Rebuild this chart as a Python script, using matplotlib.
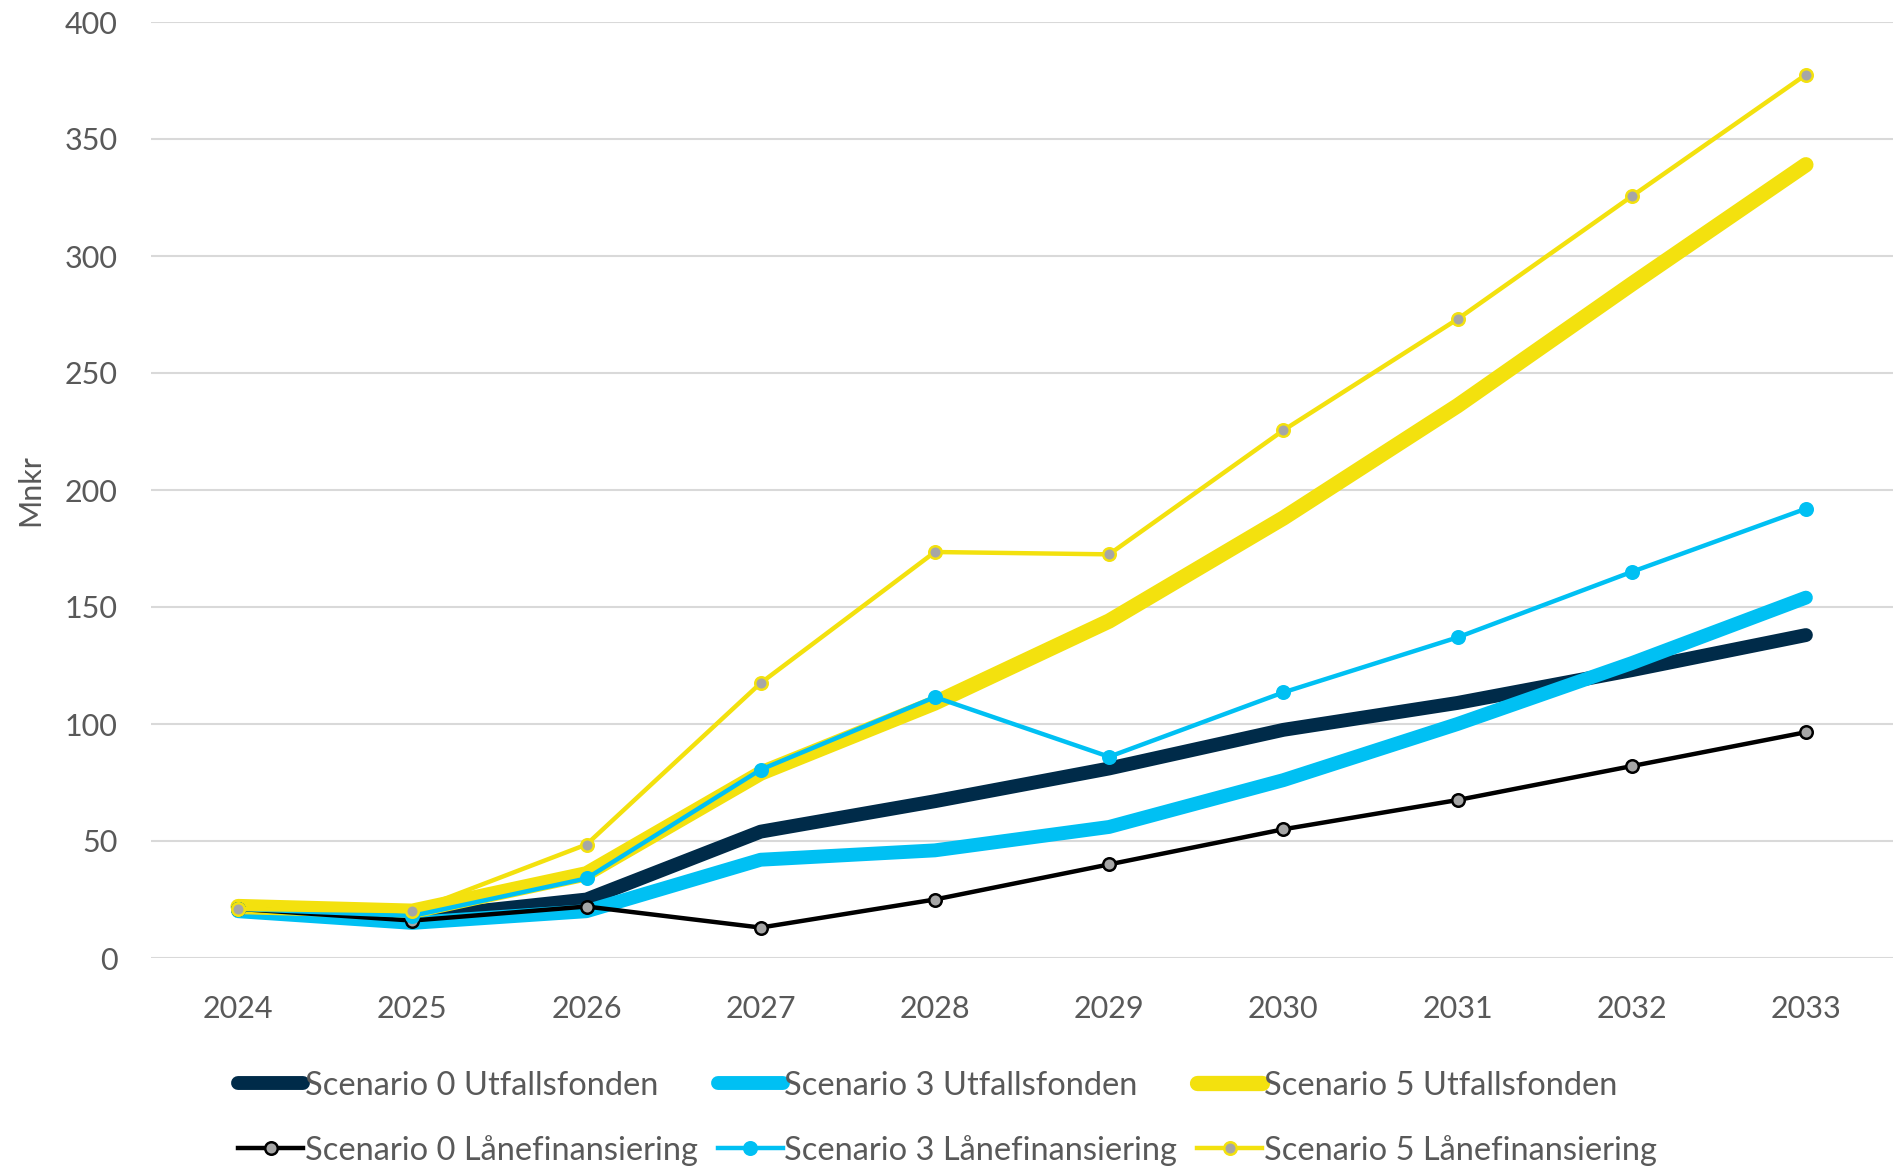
import matplotlib
matplotlib.use('Agg')
import matplotlib.pyplot as plt
import numpy as np

plt.rcParams['font.family'] = ['Lato', 'DejaVu Sans']

# data (Mnkr)
years = ['2024', '2025', '2026', '2027', '2028', '2029', '2030', '2031', '2032', '2033']

s0_utfall = [21, 17, 25, 54, 67, 81, 97.5, 109, 123, 138]
s3_utfall = [20, 15, 20, 42, 46, 56, 76, 100, 126, 154]
s5_utfall = [22, 20, 36, 79, 109, 144, 188, 236, 288, 339]

s0_lan = [21, 16, 22, 13, 25, 40, 55, 67.5, 82, 96.5]
s3_lan = [21, 18, 34, 80.5, 111.5, 86, 113.5, 137, 165, 192]
s5_lan = [21, 20, 48.5, 117.5, 173.5, 172.5, 225.5, 273, 325.5, 377.5]

navy = '#002B49'
cyan = '#00C0F3'
yellow = '#F3E10E'
grey_dot = '#A6A6A6'
text_col = '#595959'

fig = plt.figure(figsize=(18.95, 11.66), dpi=100)
ax = fig.add_axes([151 / 1895, 208 / 1166, 1742 / 1895, 936 / 1166])

x = np.arange(len(years))
thick = 10
thin = 3.2

l0u, = ax.plot(x, s0_utfall, color=navy, lw=thick, solid_capstyle='round',
               solid_joinstyle='round', label='Scenario 0 Utfallsfonden')
l3u, = ax.plot(x, s3_utfall, color=cyan, lw=thick, solid_capstyle='round',
               solid_joinstyle='round', label='Scenario 3 Utfallsfonden')
l5u, = ax.plot(x, s5_utfall, color=yellow, lw=thick + 1, solid_capstyle='round',
               solid_joinstyle='round', label='Scenario 5 Utfallsfonden')

l0l, = ax.plot(x, s0_lan, color='black', lw=thin, marker='o', ms=9,
               mfc=grey_dot, mec='black', mew=1.8, label='Scenario 0 Lånefinansiering')
l3l, = ax.plot(x, s3_lan, color=cyan, lw=thin, marker='o', ms=9,
               mfc=cyan, mec=cyan, mew=1.8, label='Scenario 3 Lånefinansiering')
l5l, = ax.plot(x, s5_lan, color=yellow, lw=thin, marker='o', ms=9,
               mfc=grey_dot, mec=yellow, mew=1.8, label='Scenario 5 Lånefinansiering')

ax.set_xlim(-0.5, len(years) - 0.5)
ax.set_ylim(0, 400)
ax.set_yticks(range(0, 401, 50))
ax.set_xticks(x)
ax.set_xticklabels(years)
ax.grid(axis='y', color='#D9D9D9', lw=1.5)
ax.set_axisbelow(True)
for s in ax.spines.values():
    s.set_visible(False)
ax.tick_params(axis='both', length=0, labelsize=22, labelcolor=text_col)
ax.tick_params(axis='y', pad=24)
ax.tick_params(axis='x', pad=27)

fig.text(30 / 1895, 0.58, 'Mnkr', rotation=90, ha='center', va='center',
         fontsize=22, color=text_col)

handles = [l0u, l0l, l3u, l3l, l5u, l5l]
leg = fig.legend(handles=handles, labels=[h.get_label() for h in handles],
                 loc='center', bbox_to_anchor=(0.5, 0.041), ncol=3, frameon=False,
                 fontsize=23.5, handlelength=2.0, handletextpad=0.05,
                 columnspacing=0.6, labelspacing=1.05)
for t in leg.get_texts():
    t.set_color(text_col)

fig.savefig('out.png', dpi=100)
